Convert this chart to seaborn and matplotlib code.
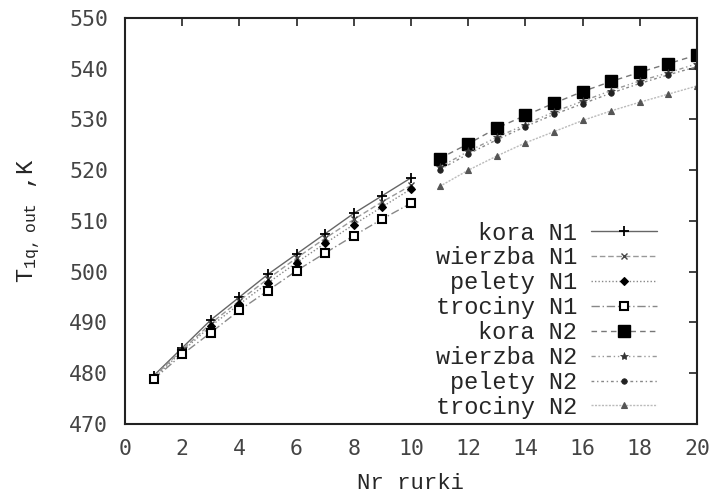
import matplotlib
matplotlib.use("Agg")
import matplotlib.pyplot as plt
import seaborn as sns
import pandas as pd

sns.set_theme(style="white")
plt.rcParams['font.family'] = ['Liberation Mono', 'DejaVu Sans Mono']
plt.rcParams['mathtext.default'] = 'regular'

x_n1 = [1, 2, 3, 4, 5, 6, 7, 8, 9, 10]
x_n2 = [11, 12, 13, 14, 15, 16, 17, 18, 19, 20]

kora_n1 = [479.5, 485.0, 490.5, 495.0, 499.5, 503.5, 507.5, 511.5, 515.0, 518.5]
wierzba_n1 = [479.3, 484.6, 489.8, 494.3, 498.6, 502.7, 506.6, 510.3, 513.8, 517.0]
pelety_n1 = [479.0, 484.3, 489.3, 493.6, 497.8, 501.8, 505.6, 509.3, 512.8, 516.3]
trociny_n1 = [478.8, 483.7, 488.0, 492.4, 496.3, 500.2, 503.7, 507.1, 510.4, 513.5]

kora_n2 = [522.3, 525.2, 528.3, 530.8, 533.2, 535.5, 537.5, 539.3, 541.0, 542.7]
wierzba_n2 = [520.6, 523.7, 526.5, 529.0, 531.5, 533.6, 535.7, 537.6, 539.2, 541.0]
pelety_n2 = [520.1, 523.2, 526.0, 528.6, 531.0, 533.1, 535.2, 537.1, 538.8, 540.4]
trociny_n2 = [516.8, 520.0, 522.8, 525.4, 527.6, 529.8, 531.7, 533.4, 535.0, 536.6]

series = [
    ("kora N1", x_n1, kora_n1, dict(marker='+', ms=7, mew=1.3, mfc='black', mec='black', ls='-', color='#666666')),
    ("wierzba N1", x_n1, wierzba_n1, dict(marker='x', ms=5, mew=1.0, mfc='black', mec='#444444', ls=(0, (4, 2)), color='#999999')),
    ("pelety N1", x_n1, pelety_n1, dict(marker='D', ms=4.5, mew=0.8, mfc='black', mec='black', ls=(0, (1, 1.5)), color='#888888')),
    ("trociny N1", x_n1, trociny_n1, dict(marker='s', ms=6, mew=1.5, mfc='white', mec='black', ls=(0, (6, 2, 1, 2)), color='#888888')),
    ("kora N2", x_n2, kora_n2, dict(marker='s', ms=8, mew=1.0, mfc='black', mec='black', ls=(0, (4, 3)), color='#777777')),
    ("wierzba N2", x_n2, wierzba_n2, dict(marker='*', ms=6, mew=0.5, mfc='#333333', mec='#333333', ls=(0, (3, 2, 1, 2, 1, 2)), color='#999999')),
    ("pelety N2", x_n2, pelety_n2, dict(marker='o', ms=4, mew=0.5, mfc='#222222', mec='#222222', ls=(0, (2, 2, 1, 2)), color='#888888')),
    ("trociny N2", x_n2, trociny_n2, dict(marker='^', ms=5, mew=0.8, mfc='#555555', mec='#555555', ls=(0, (1.5, 1)), color='#bbbbbb')),
]

fig = plt.figure(figsize=(7.09, 4.98), dpi=100)
ax = fig.add_axes([0.1763, 0.1486, 0.8067, 0.8153])

for label, xs, ys, st in series:
    df = pd.DataFrame({"x": xs, "y": ys})
    sns.lineplot(data=df, x="x", y="y", ax=ax, label=label, lw=1.0,
                 marker=st['marker'], markersize=st['ms'], markeredgewidth=st['mew'],
                 markerfacecolor=st['mfc'], markeredgecolor=st['mec'],
                 linestyle=st['ls'], color=st['color'])

ax.set_xlim(0, 20)
ax.set_ylim(470, 550)
ax.set_xticks(range(0, 21, 2))
ax.set_yticks(range(470, 551, 10))
ax.tick_params(direction='in', length=6, width=1.2, top=True, right=True,
               labelsize=15.5, colors='#222222')
ax.tick_params(axis='x', pad=11)
ax.tick_params(axis='y', pad=12)
for lab in ax.get_xticklabels() + ax.get_yticklabels():
    lab.set_fontfamily(['DejaVu Sans Mono'])
    lab.set_color('#444444')
for sp in ax.spines.values():
    sp.set_linewidth(1.5)
    sp.set_color('#222222')

ax.set_xlabel("Nr rurki", fontsize=16, labelpad=10)
ax.set_ylabel("T$_{1q,\\,out}$ ,K", fontsize=17, labelpad=20)

leg = ax.legend(loc='lower right', bbox_to_anchor=(0.955, -0.022), markerfirst=False,
                frameon=False, fontsize=17, labelspacing=0.08, handlelength=2.8,
                handletextpad=0.6, borderaxespad=0.2)

fig.savefig("out.png", dpi=100)
